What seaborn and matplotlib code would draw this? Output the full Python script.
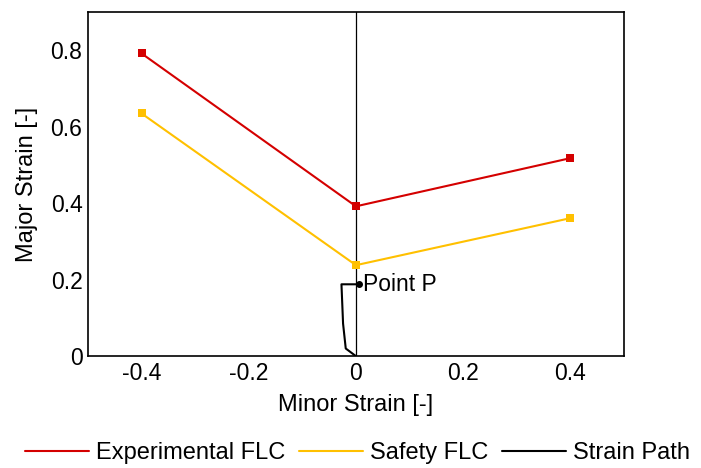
import matplotlib
matplotlib.use("Agg")
import matplotlib.pyplot as plt
from matplotlib.lines import Line2D
import seaborn as sns
import pandas as pd

minor_flc = [-0.4, 0.0, 0.4]
exp_major = [0.792, 0.392, 0.518]
safe_major = [0.635, 0.238, 0.361]
path_minor = [0.0, -0.019, -0.024, -0.027, 0.006]
path_major = [0.0, 0.020, 0.085, 0.188, 0.188]
point_p = (0.006, 0.188)
xticks = [-0.4, -0.2, 0, 0.2, 0.4]
xticklabels = ["-0.4", "-0.2", "0", "0.2", "0.4"]
yticks = [0, 0.2, 0.4, 0.6, 0.8]
yticklabels = ["0", "0.2", "0.4", "0.6", "0.8"]
series_names = ["Experimental FLC", "Safety FLC", "Strain Path"]
series_colors = ["#d40000", "#ffc000", "black"]

sns.set_style("white")
plt.rcParams['font.family'] = ['Liberation Sans', 'DejaVu Sans']
plt.rcParams['text.color'] = 'black'
plt.rcParams['axes.labelcolor'] = 'black'
plt.rcParams['xtick.color'] = 'black'
plt.rcParams['ytick.color'] = 'black'

FS_TICK = 16.5
FS = 17
fig = plt.figure(figsize=(7.01, 4.68), dpi=100)
ax = fig.add_axes([0.1255, 0.239, 0.7645, 0.735])

df_exp = pd.DataFrame({"x": minor_flc, "y": exp_major})
df_safe = pd.DataFrame({"x": minor_flc, "y": safe_major})
df_path = pd.DataFrame({"x": path_minor, "y": path_major})

ax.axvline(0, color="black", lw=0.9, zorder=1)
sns.lineplot(data=df_exp, x="x", y="y", ax=ax, color=series_colors[0], lw=1.5,
             marker="s", markersize=6, markeredgewidth=0, sort=False, legend=False)
sns.lineplot(data=df_safe, x="x", y="y", ax=ax, color=series_colors[1], lw=1.5,
             marker="s", markersize=6, markeredgewidth=0, sort=False, legend=False)
sns.lineplot(data=df_path, x="x", y="y", ax=ax, color=series_colors[2], lw=1.5,
             sort=False, legend=False)
ax.plot([point_p[0]], [point_p[1]], marker="o", color="black", markersize=4)
ax.text(point_p[0] + 0.008, point_p[1], "Point P", fontsize=FS_TICK,
        va="center", ha="left")

ax.set_xlim(-0.5, 0.5)
ax.set_ylim(0, 0.9)
ax.set_xticks(xticks)
ax.set_xticklabels(xticklabels)
ax.set_yticks(yticks)
ax.set_yticklabels(yticklabels)
ax.tick_params(direction="in", length=4, width=0.8, labelsize=FS_TICK,
               color="black", pad=4)
ax.set_xlabel("Minor Strain [-]", fontsize=FS, labelpad=7)
ax.set_ylabel("Major Strain [-]", fontsize=FS, labelpad=9)
for s in ax.spines.values():
    s.set_color("black")
    s.set_linewidth(1.2)

handles = [Line2D([0], [0], color=c, lw=1.5) for c in series_colors]
fig.legend(handles, series_names, loc="center", bbox_to_anchor=(0.51, 0.032),
           ncol=3, frameon=False, fontsize=FS,
           handlelength=2.7, columnspacing=0.6, handletextpad=0.3,
           borderpad=0, borderaxespad=0)

fig.savefig("out.png", dpi=100)
